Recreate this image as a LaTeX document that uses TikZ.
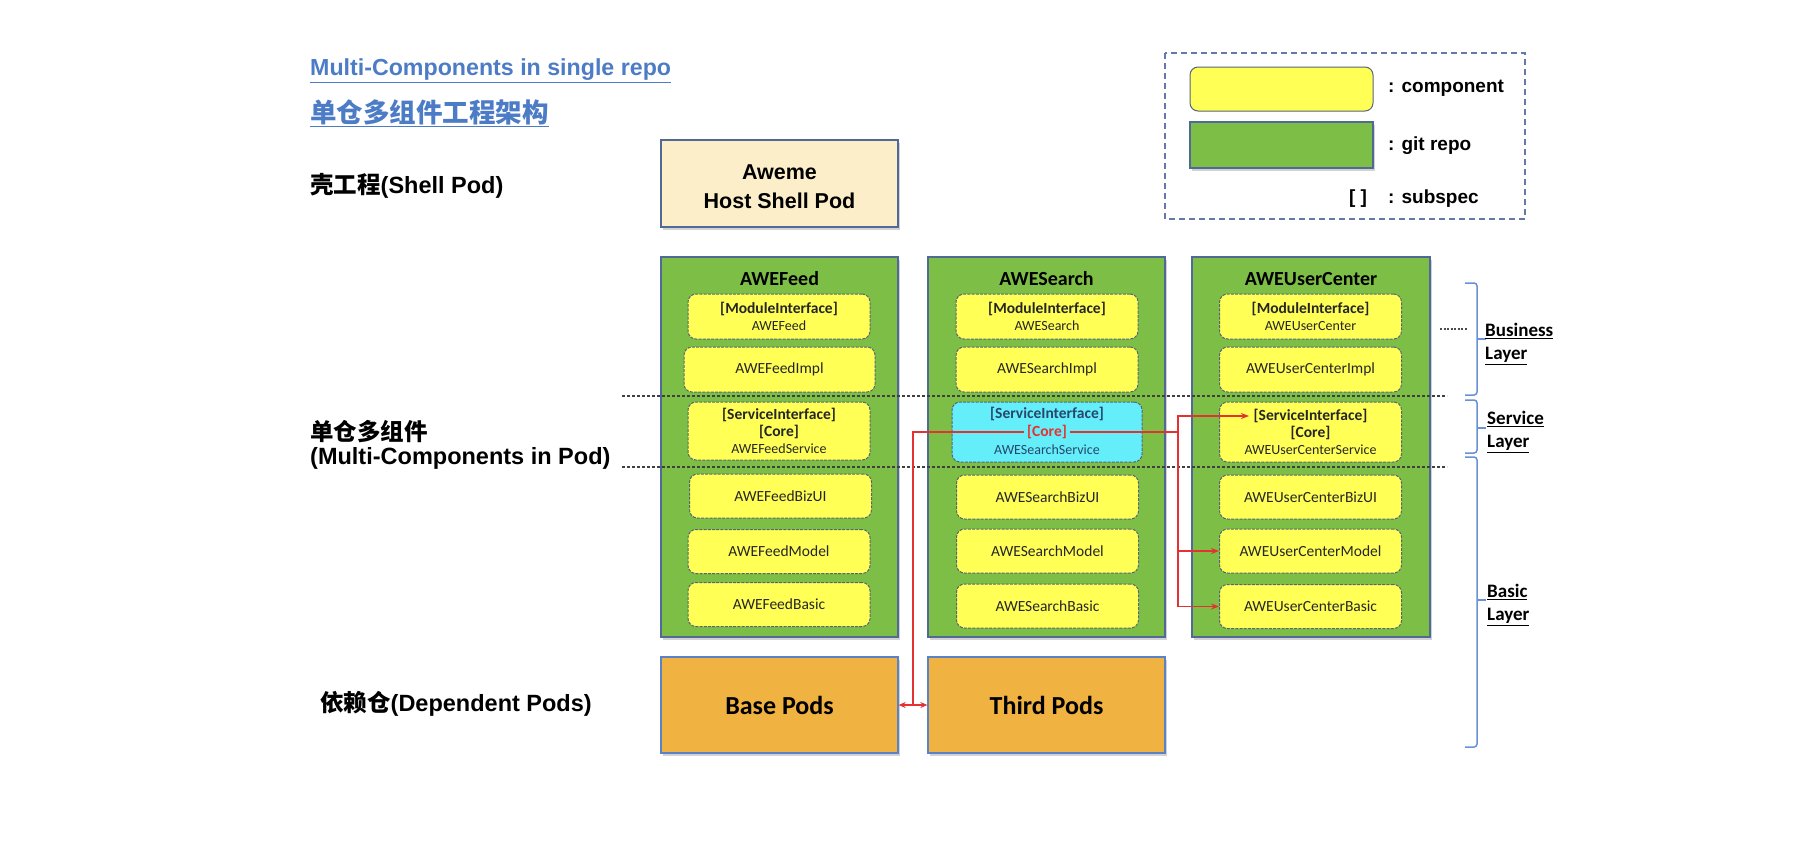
\documentclass[tikz,border=0pt]{standalone}
\usepackage{fontspec}
\setmainfont{Liberation Sans}
\newfontfamily\cjk{Noto Sans CJK SC}
\newfontfamily\calfont{Carlito}
\usetikzlibrary{shadows,arrows.meta}
\definecolor{ttlblue}{RGB}{77,124,198}
\definecolor{gfill}{RGB}{125,190,70}
\definecolor{gline}{RGB}{80,105,150}
\definecolor{yfill}{RGB}{255,255,85}
\definecolor{yline}{RGB}{85,100,120}
\definecolor{cfill}{RGB}{100,238,250}
\definecolor{shfill}{RGB}{252,238,200}
\definecolor{ofill}{RGB}{240,178,65}
\definecolor{oline}{RGB}{90,130,200}
\definecolor{rline}{RGB}{228,50,50}
\definecolor{brblue}{RGB}{105,145,215}
\definecolor{lgline}{RGB}{100,120,170}
\definecolor{svctext}{RGB}{40,70,110}
\tikzset{
  shad/.style={drop shadow={shadow xshift=2pt,shadow yshift=-3pt,opacity=0.35}},
  repo/.style={draw=gline,line width=1.3pt,fill=gfill,shad,minimum width=237pt,minimum height=380pt,inner sep=0pt},
  repotitle/.style={font=\calfont\bfseries\fontsize{20}{22}\selectfont,text=black,inner sep=0pt},
  comp/.style={draw=yline,line width=1pt,dash pattern=on 3pt off 1.2pt,rounded corners=8pt,fill=yfill,minimum width=182pt,minimum height=44pt,align=center,inner sep=0pt,text=black!85,font=\calfont\fontsize{15.5}{17}\selectfont},
  pod/.style={draw=oline,line width=1.3pt,fill=ofill,shad,minimum width=237pt,minimum height=96pt,inner sep=0pt,font=\calfont\bfseries\fontsize{26}{28}\selectfont},
  lbl/.style={anchor=west,inner sep=0pt,align=left,font=\bfseries\fontsize{23.5}{25}\selectfont},
  layer/.style={anchor=west,inner sep=0pt,align=left,font=\calfont\bfseries\fontsize{19}{23}\selectfont},
  sepline/.style={draw=black!75,line width=1.2pt,dash pattern=on 3pt off 2pt},
  brace/.style={draw=brblue,line width=1.5pt,rounded corners=3pt},
  redc/.style={draw=rline,line width=1.4pt},
  tip/.style={-{Stealth[length=8pt,width=6pt]}},
  lgtext/.style={anchor=west,inner sep=0pt,font=\bfseries\fontsize{19}{21}\selectfont}
}
\begin{document}
\begin{tikzpicture}[x=1pt,y=-1pt]
\fill[white] (0,0) rectangle (1814,846);
\useasboundingbox (0,0) rectangle (1814,846);

% titles
\node[anchor=west,inner sep=0pt,text=ttlblue,font=\bfseries\fontsize{23.2}{26}\selectfont] (t1) at (310,71) {\underline{Multi-Components in single repo}};
\node[anchor=west,inner sep=0pt,text=ttlblue,font=\cjk\bfseries\fontsize{26.5}{28}\selectfont] (t2) at (310,113) {\underline{单仓多组件工程架构}};

% legend
\draw[draw=lgline,line width=1.3pt,dash pattern=on 6pt off 4pt] (1165,53) rectangle (1525,219);
\node[draw=yline,line width=1pt,rounded corners=8pt,fill=yfill,minimum width=183pt,minimum height=44pt] (lgy) at (1281.5,89) {};
\node[draw=gline,line width=1.3pt,fill=gfill,shad,minimum width=183pt,minimum height=46pt] (lgg) at (1281.5,145) {};
\node[lgtext] (lgt1) at (1388,88) {: component};
\node[lgtext] (lgt2) at (1388,146) {: git repo};
\node[inner sep=0pt,font=\bfseries\fontsize{19}{21}\selectfont] (lgb) at (1358,199) {[ ]};
\node[lgtext] (lgt3) at (1388,199) {: subspec};

% left labels
\node[lbl] (lshell) at (310,186) {{\cjk 壳工程}(Shell Pod)};
\node[lbl] (lmulti) at (310,445) {{\cjk 单仓多组件}\\[-1pt](Multi-Components in Pod)};
\node[lbl] (ldep) at (320,704) {{\cjk 依赖仓}(Dependent Pods)};

% shell pod
\node[draw=gline,line width=1.3pt,fill=shfill,shad,minimum width=237pt,minimum height=87pt] (shell) at (779.5,183.5) {};
\node[align=center,inner sep=0pt,font=\bfseries\fontsize{21.5}{29}\selectfont] (shelltext) at (779.5,187) {Aweme\\Host Shell Pod};

% repos
\node[repo] (gf) at (779.5,447) {};
\node[repo] (gs) at (1046.5,447) {};
\node[repo,minimum width=238pt] (gu) at (1311,447) {};
\node[repotitle] (tf) at (779.5,279) {AWEFeed};
\node[repotitle] (ts) at (1046.5,279) {AWESearch};
\node[repotitle] (tu) at (1311,279) {AWEUserCenter};

% AWEFeed components
\node[comp,minimum height=45pt] (fmi) at (779,316.5) {\textbf{[ModuleInterface]}\\{\fontsize{14}{16}\selectfont AWEFeed}};
\node[comp,minimum width=191pt,minimum height=45pt] (fimpl) at (779.5,369.5) {AWEFeedImpl};
\node[comp,minimum height=58pt] (fsvc) at (779,431) {\textbf{[ServiceInterface]}\\\textbf{[Core]}\\{\fontsize{14}{16}\selectfont AWEFeedService}};
\node[comp] (fbiz) at (780.5,496) {AWEFeedBizUI};
\node[comp] (fmod) at (779,551.5) {AWEFeedModel};
\node[comp] (fbas) at (779,604.5) {AWEFeedBasic};

% AWESearch components
\node[comp,minimum height=45pt] (smi) at (1047,316.5) {\textbf{[ModuleInterface]}\\{\fontsize{14}{16}\selectfont AWESearch}};
\node[comp,minimum height=45pt] (simpl) at (1047,369.5) {AWESearchImpl};
\node[comp,fill=cfill,minimum width=190pt,minimum height=60pt] (ssvc) at (1047,432) {};
\node[inner sep=0pt,text=svctext,font=\calfont\bfseries\fontsize{15.5}{17}\selectfont] (ssi) at (1047,414) {[ServiceInterface]};
\node[inner sep=3pt,text=rline,font=\calfont\bfseries\fontsize{15.5}{17}\selectfont] (core) at (1047,432) {[Core]};
\node[inner sep=0pt,text=svctext,font=\calfont\fontsize{14}{16}\selectfont] (sss) at (1047,450) {AWESearchService};
\node[comp] (sbiz) at (1047.5,497) {AWESearchBizUI};
\node[comp] (smod) at (1047.5,551) {AWESearchModel};
\node[comp] (sbas) at (1047.5,606) {AWESearchBasic};

% AWEUserCenter components
\node[comp,minimum height=45pt] (umi) at (1310.5,316.5) {\textbf{[ModuleInterface]}\\{\fontsize{14}{16}\selectfont AWEUserCenter}};
\node[comp,minimum height=45pt] (uimpl) at (1310.5,369.5) {AWEUserCenterImpl};
\node[comp,minimum height=60pt] (usvc) at (1310.5,432) {\textbf{[ServiceInterface]}\\\textbf{[Core]}\\{\fontsize{14}{16}\selectfont AWEUserCenterService}};
\node[comp] (ubiz) at (1310.5,497) {AWEUserCenterBizUI};
\node[comp] (umod) at (1310.5,551) {AWEUserCenterModel};
\node[comp] (ubas) at (1310.5,606.5) {AWEUserCenterBasic};

% dependent pods
\node[pod] (bp) at (779.5,705) {Base Pods};
\node[pod] (tp) at (1046.5,705) {Third Pods};

% layer separators
\coordinate (s1l) at (622,396); \coordinate (s1r) at (1447,396);
\coordinate (s2l) at (622,467); \coordinate (s2r) at (1447,467);
\draw[sepline] (s1l) -- (s1r);
\draw[sepline] (s2l) -- (s2r);
\coordinate (dl) at (1440,329); \coordinate (dr) at (1467,329);
\draw[draw=black!70,line width=1.3pt,dash pattern=on 2pt off 1.5pt] (dl) -- (dr);

% braces
\coordinate (b1a) at (1465,283); \coordinate (b1m) at (1477,339); \coordinate (b1b) at (1465,395);
\draw[brace] (b1a) -| (b1m) |- (b1b);
\draw[brace] (b1m) -- ++(9,0);
\coordinate (b2a) at (1465,400); \coordinate (b2m) at (1477,428); \coordinate (b2b) at (1465,453);
\draw[brace] (b2a) -| (b2m) |- (b2b);
\draw[brace] (b2m) -- ++(9,0);
\coordinate (b3a) at (1465,457); \coordinate (b3m) at (1477,600); \coordinate (b3b) at (1465,747);
\draw[brace] (b3a) -| (b3m) |- (b3b);
\draw[brace] (b3m) -- ++(9,0);
\node[layer] (lbus) at (1485,344) {\underline{Business}\\\underline{Layer}};
\node[layer] (lsvc) at (1487,432) {\underline{Service}\\\underline{Layer}};
\node[layer] (lbas) at (1487,605) {\underline{Basic}\\\underline{Layer}};

% red dependencies
\coordinate (jl) at (913,705);
\coordinate (jr) at (1178,432);
\coordinate (usin) at (1249,416);
\draw[redc] (core.west) -| (jl);
\draw[redc,{Stealth[length=7pt,width=6pt]}-{Stealth[length=7pt,width=6pt]}] (bp.east) -- (tp.west);
\draw[redc] (core.east) -- (jr);
\draw[redc,tip] (jr) |- (usin);
\draw[redc,tip] (jr) |- (umod.west);
\draw[redc,tip] (jr) |- (ubas.west);
\end{tikzpicture}
\end{document}
